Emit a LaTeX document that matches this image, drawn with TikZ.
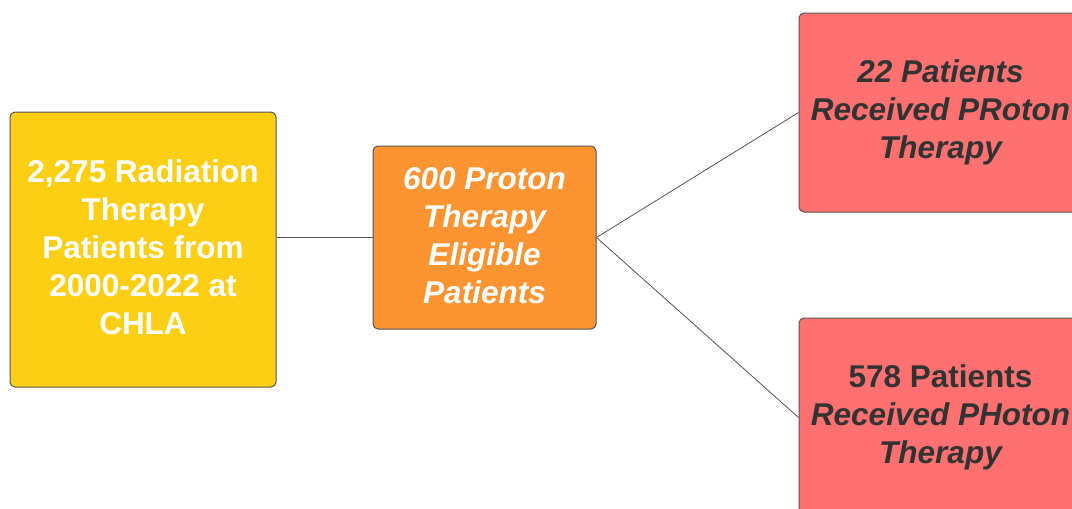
\documentclass[tikz,border=0pt]{standalone}
\usepackage{fontspec}
\setmainfont{Liberation Sans}
\definecolor{cyellow}{HTML}{FCCE14}
\definecolor{corange}{HTML}{FC9432}
\definecolor{cred}{HTML}{FF7070}
\definecolor{ctext}{HTML}{333333}
\definecolor{cborder}{HTML}{555555}
\definecolor{cline}{HTML}{555555}
\newcommand{\lift}{\rule[-4pt]{0pt}{4pt}}
\tikzset{
  box/.style={draw=cborder, line width=1pt, rounded corners=5pt, inner sep=0pt,
    align=center, font=\bfseries\fontsize{31.5}{38}\selectfont},
  conn/.style={draw=cline, line width=0.8pt}
}
\begin{document}
\begin{tikzpicture}[x=1pt,y=-1pt]
\useasboundingbox (0,0) rectangle (1072,509);
\clip (0,0) rectangle (1072,509);
\node[box, fill=cyellow, text=white, minimum width=266pt, minimum height=275pt] (yellow) at (143,249.5)
  {2,275 Radiation\\Therapy\\Patients from\\2000-2022 at\\CHLA\lift};
\node[box, fill=corange, text=white, minimum width=223pt, minimum height=183pt] (orange) at (484.5,237.5)
  {\itshape 600 Proton\\\itshape Therapy\\\itshape Eligible\\\itshape Patients\lift};
\node[box, fill=cred, text=ctext, minimum width=283pt, minimum height=199pt] (redtop) at (940.5,112.5)
  {\itshape 22 Patients\\\itshape Received PRoton\\\itshape Therapy};
\node[box, fill=cred, text=ctext, minimum width=283pt, minimum height=199pt] (redbot) at (940.5,417.5)
  {578 Patients\\\itshape Received PHoton\\\itshape Therapy};
\draw[conn] (orange.west) -- (orange.west -| yellow.east);
\draw[conn] (orange.east) -- (redtop.west);
\draw[conn] (orange.east) -- (redbot.west);
\end{tikzpicture}
\end{document}
